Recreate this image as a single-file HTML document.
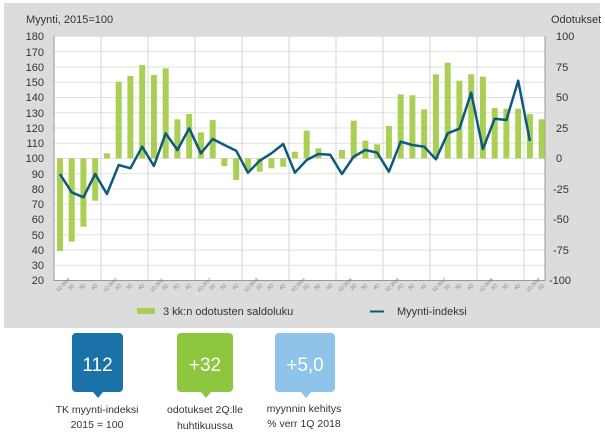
<!DOCTYPE html>
<html><head><meta charset="utf-8"><style>
body{margin:0;width:605px;height:439px;background:#fff;font-family:"Liberation Sans",sans-serif;overflow:hidden}
</style></head><body>
<svg width="605" height="439" xmlns="http://www.w3.org/2000/svg" font-family="Liberation Sans, sans-serif">
<rect x="4" y="3" width="596" height="325" fill="#dcdcdc"/>
<rect x="54" y="36" width="491" height="244" fill="#fff"/>
<g stroke="#e2e2e2" stroke-width="1">
<line x1="54" x2="545" y1="36.5" y2="36.5"/><line x1="54" x2="545" y1="51.7" y2="51.7"/><line x1="54" x2="545" y1="67" y2="67"/><line x1="54" x2="545" y1="82.2" y2="82.2"/><line x1="54" x2="545" y1="97.5" y2="97.5"/><line x1="54" x2="545" y1="112.7" y2="112.7"/><line x1="54" x2="545" y1="128" y2="128"/><line x1="54" x2="545" y1="143.2" y2="143.2"/><line x1="54" x2="545" y1="158.5" y2="158.5"/><line x1="54" x2="545" y1="173.7" y2="173.7"/><line x1="54" x2="545" y1="189" y2="189"/><line x1="54" x2="545" y1="204.2" y2="204.2"/><line x1="54" x2="545" y1="219.5" y2="219.5"/><line x1="54" x2="545" y1="234.7" y2="234.7"/><line x1="54" x2="545" y1="250" y2="250"/><line x1="54" x2="545" y1="265.2" y2="265.2"/>
</g>
<g stroke="#d4d4d4" stroke-width="1">
<line x1="101" x2="101" y1="36" y2="280"/><line x1="148" x2="148" y1="36" y2="280"/><line x1="195" x2="195" y1="36" y2="280"/><line x1="242" x2="242" y1="36" y2="280"/><line x1="289" x2="289" y1="36" y2="280"/><line x1="336" x2="336" y1="36" y2="280"/><line x1="383" x2="383" y1="36" y2="280"/><line x1="430" x2="430" y1="36" y2="280"/><line x1="477" x2="477" y1="36" y2="280"/><line x1="524" x2="524" y1="36" y2="280"/>
</g>
<line x1="54" x2="54" y1="36" y2="281" stroke="#999"/>
<line x1="545" x2="545" y1="36" y2="281" stroke="#999"/>
<line x1="54" x2="545" y1="280.5" y2="280.5" stroke="#999"/>
<g fill="#333" font-size="11" text-anchor="end">
<text x="44" y="40">180</text><text x="44" y="56">170</text><text x="44" y="71">160</text><text x="44" y="86">150</text><text x="44" y="101">140</text><text x="44" y="117">130</text><text x="44" y="132">120</text><text x="44" y="147">110</text><text x="44" y="162">100</text><text x="44" y="178">90</text><text x="44" y="193">80</text><text x="44" y="208">70</text><text x="44" y="223">60</text><text x="44" y="239">50</text><text x="44" y="254">40</text><text x="44" y="269">30</text><text x="44" y="284">20</text>
</g>
<g fill="#333" font-size="11">
<text x="556" y="40">100</text><text x="556" y="71">75</text><text x="556" y="101">50</text><text x="556" y="132">25</text><text x="556" y="162">0</text><text x="553" y="193">-25</text><text x="553" y="223">-50</text><text x="553" y="254">-75</text><text x="549" y="284">-100</text>
<text x="26" y="23">Myynti,  2015=100</text><text x="551" y="23">Odotukset</text>
</g>
<g fill="#a9cf54">
<rect x="57" y="158.3" width="6" height="92.7"/><rect x="68.7" y="158.3" width="6" height="83.4"/><rect x="80.4" y="158.3" width="6" height="68.4"/><rect x="92.2" y="158.3" width="6" height="42.4"/><rect x="103.9" y="153.3" width="6" height="5"/><rect x="115.7" y="81.7" width="6" height="76.6"/><rect x="127.4" y="76" width="6" height="82.3"/><rect x="139.2" y="65" width="6" height="93.3"/><rect x="150.9" y="75" width="6" height="83.3"/><rect x="162.7" y="68.3" width="6" height="90"/><rect x="174.4" y="119.3" width="6" height="39"/><rect x="186.2" y="114" width="6" height="44.3"/><rect x="197.9" y="132.3" width="6" height="26"/><rect x="209.7" y="120" width="6" height="38.3"/><rect x="221.4" y="158.3" width="6" height="7.7"/><rect x="233.2" y="158.3" width="6" height="21.7"/><rect x="244.9" y="158.3" width="6" height="11.7"/><rect x="256.7" y="158.3" width="6" height="13.4"/><rect x="268.4" y="158.3" width="6" height="10"/><rect x="280.2" y="158.3" width="6" height="8.4"/><rect x="291.9" y="151.7" width="6" height="6.6"/><rect x="303.7" y="130.7" width="6" height="27.6"/><rect x="315.4" y="148.3" width="6" height="10"/><rect x="338.9" y="150" width="6" height="8.3"/><rect x="350.7" y="120.7" width="6" height="37.6"/><rect x="362.4" y="140.7" width="6" height="17.6"/><rect x="374.2" y="144.3" width="6" height="14"/><rect x="385.9" y="126" width="6" height="32.3"/><rect x="397.7" y="94.3" width="6" height="64"/><rect x="409.4" y="95.3" width="6" height="63"/><rect x="421.2" y="109.3" width="6" height="49"/><rect x="432.9" y="74.3" width="6" height="84"/><rect x="444.7" y="62.7" width="6" height="95.6"/><rect x="456.4" y="80.7" width="6" height="77.6"/><rect x="468.2" y="74.3" width="6" height="84"/><rect x="479.9" y="76.7" width="6" height="81.6"/><rect x="491.7" y="108" width="6" height="50.3"/><rect x="503.4" y="108.7" width="6" height="49.6"/><rect x="515.2" y="108.7" width="6" height="49.6"/><rect x="526.9" y="114" width="6" height="44.3"/><rect x="538.7" y="119.3" width="6" height="39"/>
</g>
<polyline fill="none" stroke="#0e5a7c" stroke-width="2.5" stroke-linejoin="round" points="59.9,174 71.7,192.3 83.4,197.3 95.2,174 106.9,194 118.7,165 130.4,168.3 142.2,146.7 153.9,166 165.7,133.3 177.4,150 189.2,128.3 200.9,153.3 212.7,139 224.4,145 236.2,150.7 247.9,172.7 259.7,160.7 271.4,153.3 283.2,144 294.9,172.7 306.7,160 318.4,154 330.2,154.7 341.9,174 353.7,156.7 365.4,150 377.2,152.7 388.9,171.7 400.7,141.7 412.4,145 424.2,146.7 435.9,159.3 447.7,133.3 459.4,128.7 471.2,92.7 482.9,149 494.7,118.7 506.4,120 518.2,80.7 529.9,141"/>
<g fill="#777" font-size="4.5">
<text transform="translate(58,292) rotate(-45)">1Q 2009</text>
</g>
<g fill="#777" font-size="4.5" id="xl"></g>
<rect x="137" y="308" width="18" height="6" fill="#a9cf54"/>
<text x="163" y="315" font-size="11" fill="#333">3 kk:n odotusten saldoluku</text>
<line x1="370" x2="384" y1="311.5" y2="311.5" stroke="#0e5a7c" stroke-width="2"/>
<text x="397" y="315" font-size="11" fill="#333">Myynti-indeksi</text>
<path d="M76,333 h43 a4,4 0 0 1 4,4 v51 a4,4 0 0 1 -4,4 h-16 l-5,6 l-5,-6 h-17 a4,4 0 0 1 -4,-4 v-51 a4,4 0 0 1 4,-4z" fill="#1b72a8"/>
<text x="97.5" y="371" font-size="19" fill="#fff" text-anchor="middle">112</text>
<path d="M181,333 h48 a4,4 0 0 1 4,4 v51 a4,4 0 0 1 -4,4 h-18 l-5,6 l-5,-6 h-20 a4,4 0 0 1 -4,-4 v-51 a4,4 0 0 1 4,-4z" fill="#8dc63f"/>
<text x="205" y="371" font-size="19" fill="#fff" text-anchor="middle">+32</text>
<path d="M279,333 h52 a4,4 0 0 1 4,4 v51 a4,4 0 0 1 -4,4 h-20 l-5,6 l-5,-6 h-22 a4,4 0 0 1 -4,-4 v-51 a4,4 0 0 1 4,-4z" fill="#8ec4ea"/>
<text x="305" y="371" font-size="19" fill="#fff" text-anchor="middle">+5,0</text>
<g font-size="10.5" fill="#333" text-anchor="middle">
<text x="97" y="413">TK myynti-indeksi</text><text x="97" y="428">2015 = 100</text>
<text x="205" y="413">odotukset 2Q:lle</text><text x="205" y="429">huhtikuussa</text>
<text x="304" y="412">myynnin kehitys</text><text x="304" y="427">% verr 1Q 2018</text>
</g>
<g fill="#777" font-size="4.5">
<text transform="translate(70,290) rotate(-45)">2Q</text><text transform="translate(81,290) rotate(-45)">3Q</text><text transform="translate(93,290) rotate(-45)">4Q</text>
<text transform="translate(105,292) rotate(-45)">1Q 2010</text><text transform="translate(117,290) rotate(-45)">2Q</text><text transform="translate(128,290) rotate(-45)">3Q</text><text transform="translate(140,290) rotate(-45)">4Q</text>
<text transform="translate(152,292) rotate(-45)">1Q 2011</text><text transform="translate(164,290) rotate(-45)">2Q</text><text transform="translate(175,290) rotate(-45)">3Q</text><text transform="translate(187,290) rotate(-45)">4Q</text>
<text transform="translate(199,292) rotate(-45)">1Q 2012</text><text transform="translate(211,290) rotate(-45)">2Q</text><text transform="translate(222,290) rotate(-45)">3Q</text><text transform="translate(234,290) rotate(-45)">4Q</text>
<text transform="translate(246,292) rotate(-45)">1Q 2013</text><text transform="translate(258,290) rotate(-45)">2Q</text><text transform="translate(269,290) rotate(-45)">3Q</text><text transform="translate(281,290) rotate(-45)">4Q</text>
<text transform="translate(293,292) rotate(-45)">1Q 2014</text><text transform="translate(305,290) rotate(-45)">2Q</text><text transform="translate(316,290) rotate(-45)">3Q</text><text transform="translate(328,290) rotate(-45)">4Q</text>
<text transform="translate(340,292) rotate(-45)">1Q 2015</text><text transform="translate(352,290) rotate(-45)">2Q</text><text transform="translate(363,290) rotate(-45)">3Q</text><text transform="translate(375,290) rotate(-45)">4Q</text>
<text transform="translate(387,292) rotate(-45)">1Q 2016</text><text transform="translate(399,290) rotate(-45)">2Q</text><text transform="translate(410,290) rotate(-45)">3Q</text><text transform="translate(422,290) rotate(-45)">4Q</text>
<text transform="translate(434,292) rotate(-45)">1Q 2017</text><text transform="translate(446,290) rotate(-45)">2Q</text><text transform="translate(457,290) rotate(-45)">3Q</text><text transform="translate(469,290) rotate(-45)">4Q</text>
<text transform="translate(481,292) rotate(-45)">1Q 2018</text><text transform="translate(493,290) rotate(-45)">2Q</text><text transform="translate(504,290) rotate(-45)">3Q</text><text transform="translate(516,290) rotate(-45)">4Q</text>
<text transform="translate(528,292) rotate(-45)">1Q 2019</text><text transform="translate(540,290) rotate(-45)">2Q</text>
</g>
</svg>
</body></html>
